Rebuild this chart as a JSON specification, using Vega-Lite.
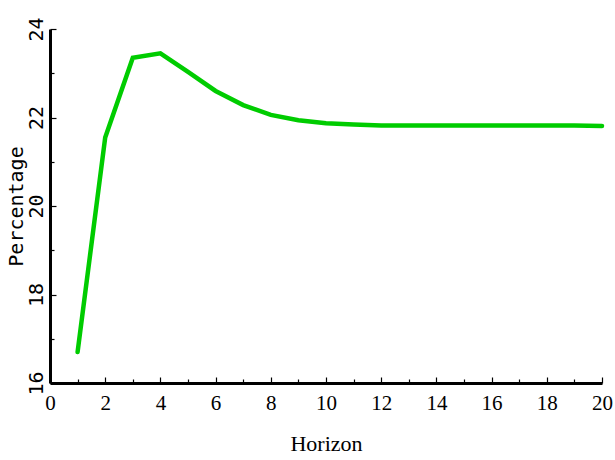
{
  "$schema": "https://vega.github.io/schema/vega-lite/v6.json",
  "autosize": "none",
  "padding": {"left": 50, "top": 29, "right": 13, "bottom": 77},
  "width": 552,
  "height": 354,
  "background": "white",
  "config": {"view": {"stroke": null}},
  "data": {"values": [
    {"h": 1, "p": 16.70},
    {"h": 2, "p": 21.55},
    {"h": 3, "p": 23.35},
    {"h": 4, "p": 23.45},
    {"h": 5, "p": 23.03},
    {"h": 6, "p": 22.60},
    {"h": 7, "p": 22.28},
    {"h": 8, "p": 22.06},
    {"h": 9, "p": 21.94},
    {"h": 10, "p": 21.87},
    {"h": 11, "p": 21.84},
    {"h": 12, "p": 21.82},
    {"h": 13, "p": 21.82},
    {"h": 14, "p": 21.82},
    {"h": 15, "p": 21.82},
    {"h": 16, "p": 21.82},
    {"h": 17, "p": 21.82},
    {"h": 18, "p": 21.82},
    {"h": 19, "p": 21.82},
    {"h": 20, "p": 21.81}
  ]},
  "mark": {"type": "line", "color": "#00CC00", "strokeWidth": 4.5, "strokeCap": "round", "strokeJoin": "miter"},
  "encoding": {
    "x": {
      "field": "h", "type": "quantitative",
      "scale": {"domain": [0, 20], "nice": false, "zero": false},
      "axis": {
        "title": "Horizon",
        "titleFont": "Liberation Serif", "titleFontSize": 22, "titleFontWeight": "normal", "titleColor": "black",
        "titlePadding": 20,
        "values": [0,1,2,3,4,5,6,7,8,9,10,11,12,13,14,15,16,17,18,19,20],
        "format": "d",
        "labelExpr": "datum.value % 2 === 0 ? datum.label : ''",
        "labelFont": "Liberation Serif", "labelFontSize": 21, "labelColor": "black",
        "labelPadding": 15,
        "labelFlush": false,
        "domainColor": "black", "domainWidth": 3,
        "tickColor": "black", "tickWidth": 1.2,
        "tickSize": {"expr": "datum.value % 2 === 0 ? -6 : -4"},
        "grid": false
      }
    },
    "y": {
      "field": "p", "type": "quantitative",
      "scale": {"domain": [16, 24], "nice": false, "zero": false},
      "axis": {
        "title": "Percentage",
        "titleFont": "DejaVu Sans Mono", "titleFontSize": 20, "titleFontWeight": "normal", "titleColor": "black",
        "titlePadding": 0,
        "values": [16,16.5,17,17.5,18,18.5,19,19.5,20,20.5,21,21.5,22,22.5,23,23.5,24],
        "format": "d",
        "labelExpr": "datum.value % 2 === 0 ? datum.label : ''",
        "labelFont": "DejaVu Sans Mono", "labelFontSize": 20, "labelColor": "black",
        "labelAngle": -90, "labelAlign": "center", "labelBaseline": "bottom",
        "labelPadding": 10,
        "labelFlush": false,
        "domainColor": "black", "domainWidth": 3,
        "tickColor": "black", "tickWidth": 1.2,
        "tickSize": {"expr": "datum.value % 2 === 0 ? -6 : -4"},
        "grid": false
      }
    }
  }
}
